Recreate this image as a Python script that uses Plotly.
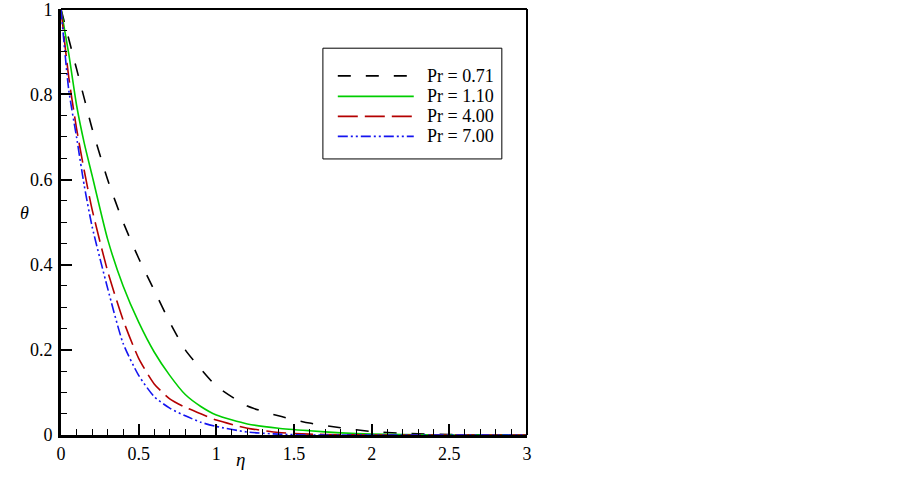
import plotly.graph_objects as go

eta = [0, 0.05, 0.1, 0.15, 0.2, 0.3, 0.4, 0.5, 0.6, 0.7, 0.8, 0.9, 1.0, 1.2, 1.4, 1.6, 1.8, 2.0, 2.2, 2.5, 3.0]
theta_071 = [1, 0.93, 0.86, 0.79, 0.72, 0.60, 0.50, 0.415, 0.34, 0.265, 0.20, 0.155, 0.115, 0.068, 0.045, 0.028, 0.017, 0.008, 0.004, 0.001, 0.0]
theta_110 = [1, 0.895, 0.775, 0.685, 0.61, 0.46, 0.35, 0.265, 0.195, 0.14, 0.095, 0.067, 0.047, 0.026, 0.016, 0.01, 0.005, 0.002, 0.001, 0.0, 0.0]
theta_400 = [1, 0.84, 0.72, 0.62, 0.53, 0.385, 0.27, 0.18, 0.12, 0.085, 0.065, 0.05, 0.035, 0.016, 0.006, 0.002, 0.0005, 0.0, 0.0, 0.0, 0.0]
theta_700 = [1, 0.81, 0.70, 0.585, 0.49, 0.345, 0.215, 0.14, 0.09, 0.063, 0.045, 0.03, 0.02, 0.007, 0.002, 0.0, 0.0, 0.0, 0.0, 0.0, 0.0]
labels = ["Pr = 0.71", "Pr = 1.10", "Pr = 4.00", "Pr = 7.00"]
x_ticks = [0, 0.5, 1, 1.5, 2, 2.5, 3]
x_ticktext = ["0", "0.5", "1", "1.5", "2", "2.5", "3"]
y_ticks = [0, 0.2, 0.4, 0.6, 0.8, 1]
y_ticktext = ["0", "0.2", "0.4", "0.6", "0.8", "1"]

series = [theta_071, theta_110, theta_400, theta_700]
colors = ["black", "rgb(0,205,0)", "rgb(180,0,0)", "rgb(20,20,240)"]
dashes = ["13px,15px", "solid", "20px,7px", "10px,3px,2px,3px,2px,3px"]

FONT = "Liberation Serif"
fig = go.Figure()
for y, c, d, n in zip(series, colors, dashes, labels):
    fig.add_trace(go.Scatter(x=eta, y=y, mode="lines", name=n, showlegend=False,
                             line=dict(color=c, dash=d, width=1.6, shape="spline", smoothing=0.6)))

# axis frame: top & right thin lines
fig.add_shape(type="line", xref="paper", yref="paper", x0=0, x1=1, y0=1, y1=1, line=dict(color="black", width=2))
fig.add_shape(type="line", xref="paper", yref="paper", x0=1, x1=1, y0=0, y1=1, line=dict(color="black", width=2))

# manual legend
fig.add_shape(type="rect", xref="paper", yref="paper", x0=0.562, x1=0.946, y0=0.648, y1=0.908,
              line=dict(color="black", width=1), fillcolor="white", layer="above")
ys = [0.843, 0.795, 0.748, 0.701]
for yy, c, d, n in zip(ys, colors, dashes, labels):
    fig.add_shape(type="line", xref="paper", yref="paper", x0=0.594, x1=0.757, y0=yy, y1=yy,
                  line=dict(color=c, dash=d, width=1.6), layer="above")
    fig.add_annotation(xref="paper", yref="paper", x=0.781, y=yy, text=n, showarrow=False,
                       xanchor="left", yanchor="middle", font=dict(family=FONT, size=18, color="black"))

fig.add_annotation(xref="paper", yref="paper", x=(240-61)/466, y=(435-472)/426, text="<i>η</i>",
                   showarrow=False, font=dict(family=FONT, size=19, color="black"))
fig.add_annotation(xref="paper", yref="paper", x=(18-61)/466, y=(435-213)/426, text="<i>θ</i>",
                   showarrow=False, font=dict(family=FONT, size=18, color="black"))

axis_common = dict(showgrid=False, zeroline=False, showline=True, linecolor="black", linewidth=3,
                   ticks="inside", ticklen=11, tickwidth=2, tickcolor="black", automargin=False,
                   ticklabeloverflow="allow",
                   tickfont=dict(family=FONT, size=18, color="black"), mirror=False)
fig.update_xaxes(range=[0, 3], tickvals=x_ticks, ticktext=x_ticktext, ticklabelstandoff=0,
                 minor=dict(ticks="inside", ticklen=6, tickwidth=1, tickcolor="black", dtick=0.1, tick0=0),
                 **axis_common)
fig.update_yaxes(range=[0, 1.0005], tickvals=y_ticks, ticktext=y_ticktext, ticklabelstandoff=2,
                 minor=dict(ticks="inside", ticklen=6, tickwidth=1, tickcolor="black", dtick=0.05, tick0=0),
                 **axis_common)
fig.update_layout(width=903, height=486, margin=dict(l=61, r=376, t=9, b=51),
                  font=dict(family=FONT, size=18, color="black"),
                  paper_bgcolor="white", plot_bgcolor="white", showlegend=False)
fig.write_html("out.html", config={"displayModeBar": False},
               post_script="document.body.style.margin='0';")
